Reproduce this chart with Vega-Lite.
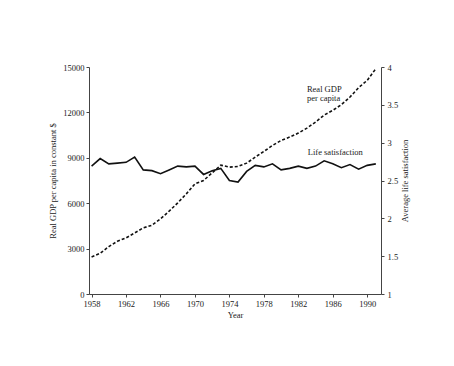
{
  "$schema": "https://vega.github.io/schema/vega-lite/v6.json",
  "width": 292,
  "height": 227,
  "autosize": {"type": "none"},
  "padding": {"left": 89, "top": 67, "right": 73, "bottom": 72},
  "background": "white",
  "config": {
    "view": {"stroke": null},
    "font": "Liberation Serif",
    "axis": {
      "labelFont": "Liberation Serif",
      "titleFont": "Liberation Serif",
      "labelFontSize": 8.5,
      "titleFontSize": 8.5,
      "titleFontWeight": "normal",
      "labelColor": "#1a1a1a",
      "titleColor": "#1a1a1a",
      "domainColor": "#444",
      "tickColor": "#444",
      "tickSize": 3,
      "labelOverlap": false,
      "grid": false
    }
  },
  "datasets": {
    "series": [
      {"year": 1958, "gdp": 2449, "ls": 2.69},
      {"year": 1959, "gdp": 2691, "ls": 2.79},
      {"year": 1960, "gdp": 3133, "ls": 2.72},
      {"year": 1961, "gdp": 3485, "ls": 2.73},
      {"year": 1962, "gdp": 3706, "ls": 2.74},
      {"year": 1963, "gdp": 4037, "ls": 2.81},
      {"year": 1964, "gdp": 4368, "ls": 2.64},
      {"year": 1965, "gdp": 4544, "ls": 2.63},
      {"year": 1966, "gdp": 4963, "ls": 2.59},
      {"year": 1967, "gdp": 5471, "ls": 2.64},
      {"year": 1968, "gdp": 6022, "ls": 2.69},
      {"year": 1969, "gdp": 6618, "ls": 2.68},
      {"year": 1970, "gdp": 7280, "ls": 2.69},
      {"year": 1971, "gdp": 7500, "ls": 2.58},
      {"year": 1972, "gdp": 8008, "ls": 2.63},
      {"year": 1973, "gdp": 8515, "ls": 2.66},
      {"year": 1974, "gdp": 8383, "ls": 2.50},
      {"year": 1975, "gdp": 8427, "ls": 2.48},
      {"year": 1976, "gdp": 8647, "ls": 2.62},
      {"year": 1977, "gdp": 9045, "ls": 2.70},
      {"year": 1978, "gdp": 9420, "ls": 2.68},
      {"year": 1979, "gdp": 9817, "ls": 2.72},
      {"year": 1980, "gdp": 10148, "ls": 2.64},
      {"year": 1981, "gdp": 10368, "ls": 2.66},
      {"year": 1982, "gdp": 10633, "ls": 2.69},
      {"year": 1983, "gdp": 10964, "ls": 2.66},
      {"year": 1984, "gdp": 11361, "ls": 2.69},
      {"year": 1985, "gdp": 11824, "ls": 2.76},
      {"year": 1986, "gdp": 12133, "ls": 2.72},
      {"year": 1987, "gdp": 12508, "ls": 2.67},
      {"year": 1988, "gdp": 13015, "ls": 2.71},
      {"year": 1989, "gdp": 13633, "ls": 2.65},
      {"year": 1990, "gdp": 14118, "ls": 2.70},
      {"year": 1991, "gdp": 14890, "ls": 2.72}
    ],
    "labels": [
      {"year": 1983.0, "gdp": 13560, "text": ["Real GDP", "per capita"]},
      {"year": 1983.1, "gdp": 9353, "text": ["Life satisfaction"]}
    ]
  },
  "encoding": {
    "x": {
      "field": "year", "type": "quantitative",
      "scale": {"domain": [1957.7, 1991.6], "nice": false, "zero": false},
      "axis": {"values": [1958, 1962, 1966, 1970, 1974, 1978, 1982, 1986, 1990], "format": "d", "title": "Year", "labelPadding": 2, "titlePadding": 3, "labelOverlap": false, "labelFlush": false, "labelBound": false}
    }
  },
  "layer": [
    {
      "layer": [
        {
          "data": {"name": "series"},
          "mark": {"type": "line", "color": "#111", "strokeWidth": 1.6, "strokeDash": [3, 2]},
          "encoding": {
            "y": {
              "field": "gdp", "type": "quantitative",
              "scale": {"domain": [0, 15000], "nice": false},
              "axis": {"values": [0, 3000, 6000, 9000, 12000, 15000], "format": "d", "title": "Real GDP per capita in constant $", "orient": "left", "labelPadding": 2, "titlePadding": 5}
            }
          }
        },
        {
          "data": {"name": "labels"},
          "mark": {"type": "text", "align": "left", "baseline": "middle", "fontSize": 8.5, "font": "Liberation Serif", "color": "#1a1a1a", "lineHeight": 9.5},
          "encoding": {
            "y": {"field": "gdp", "type": "quantitative"},
            "text": {"field": "text"}
          }
        }
      ]
    },
    {
      "data": {"name": "series"},
      "mark": {"type": "line", "color": "#111", "strokeWidth": 1.6},
      "encoding": {
        "y": {
          "field": "ls", "type": "quantitative",
          "scale": {"domain": [1, 4], "nice": false, "zero": false},
          "axis": {"values": [1, 1.5, 2, 2.5, 3, 3.5, 4], "format": "~g", "title": "Average life satisfaction", "orient": "right", "titleAngle": 270, "labelPadding": 3, "titlePadding": 12}
        }
      }
    }
  ],
  "resolve": {"scale": {"y": "independent"}}
}
